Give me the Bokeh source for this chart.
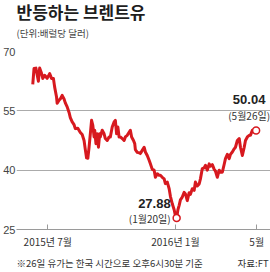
import numpy as np
from bokeh.plotting import figure
from bokeh.models import Range1d, FixedTicker, Label, ColumnDataSource
from bokeh.layouts import column
from bokeh.core.properties import value
from bokeh.embed import file_html
from bokeh.resources import INLINE

# days since 2015-06-04
days = [0, 2, 5, 9, 11, 14, 16, 19, 23, 27, 30, 33, 35, 38, 39, 42, 44, 47, 50, 52,
        55, 58, 60, 63, 66, 68, 72, 76, 79, 82, 84, 86, 88, 90, 92, 94, 96, 98, 99, 101,
        103, 105, 107, 108, 111, 114, 116, 119, 122, 124, 127, 130, 132, 134, 136, 138, 140, 143, 146, 148,
        151, 154, 156, 158, 161, 163, 164, 167, 170, 172, 175, 178, 180, 183, 186, 188, 191, 194, 196, 199,
        202, 204, 207, 210, 212, 215, 218, 220, 223, 226, 228, 230, 232, 234, 236, 239, 242, 244, 247, 250,
        252, 255, 258, 260, 263, 266, 268, 271, 274, 276, 279, 282, 284, 287, 290, 292, 295, 298, 300, 303,
        306, 308, 311, 314, 316, 319, 322, 324, 327, 330, 332, 335, 338, 340, 343, 346, 348, 351, 354, 357]
prices = [61.7, 65.7, 65.8, 62.5, 65.8, 64.5, 63.2, 64.0, 63.2, 64.4, 63.2, 63.2, 61.0, 58.5, 56.9, 57.7, 58.0, 58.9, 58.0, 57.0,
          56.0, 54.6, 53.3, 52.2, 51.5, 50.5, 50.6, 49.5, 49.0, 47.5, 45.2, 43.1, 43.0, 45.8, 49.2, 52.6, 51.3, 48.4, 50.1, 46.7,
          49.2, 45.8, 49.2, 48.4, 50.1, 49.2, 48.0, 47.5, 48.4, 48.4, 50.9, 52.2, 52.6, 49.2, 50.9, 48.4, 48.4, 48.0, 47.5, 48.4,
          48.8, 49.6, 50.1, 48.4, 47.5, 46.7, 45.2, 44.5, 44.4, 44.2, 45.0, 45.8, 44.6, 43.7, 42.5, 41.6, 40.2, 40.0, 38.2, 39.1,
          38.7, 38.7, 38.2, 37.8, 36.6, 37.0, 35.3, 33.4, 31.5, 30.0, 28.5, 27.88, 30.0, 31.1, 32.5, 33.2, 34.4, 34.0, 32.3, 34.3,
          33.9, 35.3, 34.9, 37.0, 36.0, 36.5, 37.8, 40.4, 40.6, 41.2, 40.0, 41.6, 41.0, 41.4, 40.2, 39.8, 38.2, 40.0, 39.5, 39.5,
          41.5, 42.9, 44.0, 42.9, 44.0, 44.6, 45.4, 45.8, 47.5, 48.0, 45.8, 43.7, 45.8, 47.5, 48.4, 48.8, 48.8, 50.1, 49.6, 50.04]

y_ticks = [25, 40, 55, 70]
x_tick_days = [24, 228, 358]
x_tick_labels = ["2015년 7월", "2016년 1월", "5월"]

title_text = "반등하는 브렌트유"
subtitle_text = "(단위:배럴당 달러)"
note_text = "※26일 유가는 한국 시간으로 오후6시30분 기준"
source_text = "자료:FT"
min_date_text = "(1월20일)"
last_date_text = "(5월26일)"

KR = "Noto Sans CJK KR"
NUM = "Liberation Sans"
RED = "#d7191f"
W = 270


def text_panel(h):
    f = figure(width=W, height=h, output_backend="svg", toolbar_location=None,
               x_range=Range1d(0, W), y_range=Range1d(h, 0),
               min_border=0, min_border_left=0, min_border_right=0,
               min_border_top=0, min_border_bottom=0)
    f.axis.visible = False
    f.grid.visible = False
    f.outline_line_color = None
    return f


# header
head = text_panel(44)
head.text(x=[0], y=[11], text=[title_text], text_font=value(KR), text_font_style="bold",
          text_font_size="17px", text_color="#1e1e1e", text_baseline="middle")
head.text(x=[0], y=[32], text=[subtitle_text], text_font=value(KR),
          text_font_size="9.5px", text_color="#444444", text_baseline="middle")

# main chart
p = figure(width=W, height=208, output_backend="svg", toolbar_location=None,
           x_range=Range1d(-26, 380), y_range=Range1d(25, 70),
           min_border_left=16, min_border_right=0, min_border_top=7, min_border_bottom=23)
p.outline_line_color = None
p.background_fill_color = "white"

p.yaxis.ticker = FixedTicker(ticks=y_ticks)
p.yaxis.axis_line_color = None
p.yaxis.major_tick_line_color = None
p.yaxis.major_tick_in = 0
p.yaxis.major_tick_out = 0
p.yaxis.minor_tick_line_color = None
p.yaxis.minor_tick_in = 0
p.yaxis.minor_tick_out = 0
p.yaxis.major_label_text_font = NUM
p.yaxis.major_label_text_font_size = "11px"
p.yaxis.major_label_text_color = "#444444"
p.yaxis.major_label_standoff = 1

p.xaxis.ticker = FixedTicker(ticks=x_tick_days)
p.xaxis.major_label_overrides = {d: t for d, t in zip(x_tick_days, x_tick_labels)}
p.xaxis.axis_line_color = "#9a9a9a"
p.xaxis.axis_line_width = 1.2
p.xaxis.major_tick_in = 5
p.xaxis.major_tick_out = 0
p.xaxis.major_tick_line_color = "#9a9a9a"
p.xaxis.minor_tick_line_color = None
p.xaxis.minor_tick_in = 0
p.xaxis.minor_tick_out = 0
p.xaxis.major_label_text_font = KR
p.xaxis.major_label_text_font_size = "10px"
p.xaxis.major_label_text_color = "#333333"
p.xaxis.major_label_standoff = 4

p.xgrid.grid_line_color = None
p.ygrid.grid_line_color = "#ababab"
p.ygrid.grid_line_width = 1.2

src = ColumnDataSource(dict(x=days, y=prices))
p.line("x", "y", source=src, line_color=RED, line_width=3, line_join="round")

i_min = int(np.argmin(prices))
i_last = len(prices) - 1
p.scatter([days[i_min], days[i_last]], [prices[i_min], prices[i_last]], size=7,
          fill_color="white", line_color=RED, line_width=1.5)

p.add_layout(Label(x=days[i_min], y=prices[i_min], text=f"{prices[i_min]:.2f}",
                   x_offset=-6, y_offset=15, text_align="right", text_baseline="middle",
                   text_font=NUM, text_font_style="bold", text_font_size="13px", text_color="#222222"))
p.add_layout(Label(x=days[i_min], y=prices[i_min], text=min_date_text,
                   x_offset=-6, y_offset=0, text_align="right", text_baseline="middle",
                   text_font=KR, text_font_size="10px", text_color="#333333"))
p.add_layout(Label(x=days[i_last], y=prices[i_last], text=f"{prices[i_last]:.2f}",
                   x_offset=-7, y_offset=31, text_align="center", text_baseline="middle",
                   text_font=NUM, text_font_style="bold", text_font_size="13px", text_color="#222222"))
p.add_layout(Label(x=days[i_last], y=prices[i_last], text=last_date_text,
                   x_offset=-7, y_offset=15, text_align="center", text_baseline="middle",
                   text_font=KR, text_font_size="10px", text_color="#333333"))

# footer
foot = text_panel(20)
foot.text(x=[0], y=[10], text=[note_text], text_font=value(KR),
          text_font_size="9.5px", text_color="#333333", text_baseline="middle")
foot.text(x=[268], y=[10], text=[source_text], text_font=value(KR), text_align="right",
          text_font_size="9.5px", text_color="#333333", text_baseline="middle")

layout = column(head, p, foot, spacing=0)
open("out.html", "w").write(file_html(layout, INLINE))
